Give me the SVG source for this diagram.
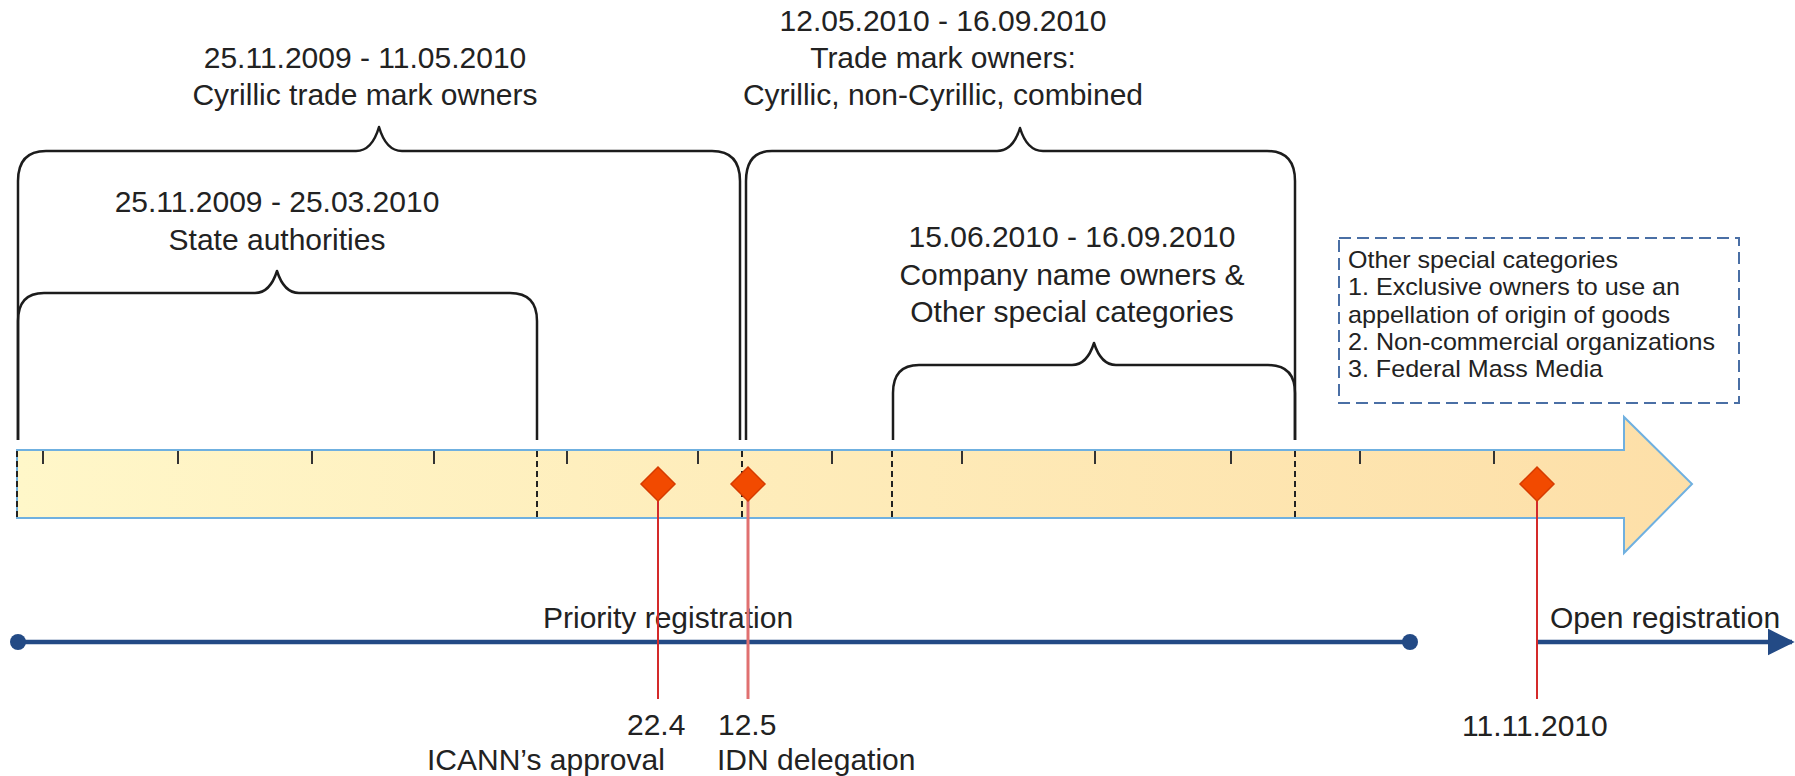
<svg xmlns="http://www.w3.org/2000/svg" width="1795" height="776" viewBox="0 0 1795 776">
<defs>
<linearGradient id="barGrad" gradientUnits="userSpaceOnUse" x1="17" y1="0" x2="1692" y2="0">
<stop offset="0" stop-color="#fff7c9"/>
<stop offset="1" stop-color="#fddfa8"/>
</linearGradient>
<marker id="blueArrow" viewBox="0 0 10 10" refX="9" refY="5" markerWidth="6" markerHeight="6" markerUnits="strokeWidth" orient="auto">
<path d="M0,0 L10,5 L0,10 z" fill="#234a85"/>
</marker>
</defs>
<style>
text{font-family:"Liberation Sans",Arial,sans-serif;fill:#222;}
.t30{font-size:30px;}
.mid{text-anchor:middle;}
.note{font-size:24px;}
.brace{fill:none;stroke:#1c1c1c;stroke-width:2.5;stroke-linejoin:round;}
.tick{stroke:#333;stroke-width:2;}
.dash{stroke:#222;stroke-width:2;stroke-dasharray:6 4;}
.diamond{fill:#f24a00;stroke:#d63c00;stroke-width:1.5;}
.redline{stroke:#d42a2a;stroke-width:2;fill:none;}
.blue{stroke:#234a85;stroke-width:4.5;fill:none;}
.dot{fill:#234a85;}
</style>
<rect width="1795" height="776" fill="#ffffff"/>

<g id="timeline">
<polygon points="17,450 1624,450 1624,417 1692,484 1624,553 1624,518 17,518" fill="url(#barGrad)" stroke="#6fb0e0" stroke-width="2"/>
<line class="tick" x1="43" y1="451" x2="43" y2="464"/>
<line class="tick" x1="178" y1="451" x2="178" y2="464"/>
<line class="tick" x1="312" y1="451" x2="312" y2="464"/>
<line class="tick" x1="434" y1="451" x2="434" y2="464"/>
<line class="tick" x1="567" y1="451" x2="567" y2="464"/>
<line class="tick" x1="698" y1="451" x2="698" y2="464"/>
<line class="tick" x1="832" y1="451" x2="832" y2="464"/>
<line class="tick" x1="962" y1="451" x2="962" y2="464"/>
<line class="tick" x1="1095" y1="451" x2="1095" y2="464"/>
<line class="tick" x1="1231" y1="451" x2="1231" y2="464"/>
<line class="tick" x1="1360" y1="451" x2="1360" y2="464"/>
<line class="tick" x1="1494" y1="451" x2="1494" y2="464"/>
<line class="dash" x1="17" y1="451" x2="17" y2="518"/>
<line class="dash" x1="537" y1="451" x2="537" y2="518"/>
<line class="dash" x1="742" y1="451" x2="742" y2="518"/>
<line class="dash" x1="892" y1="451" x2="892" y2="518"/>
<line class="dash" x1="1295" y1="451" x2="1295" y2="518"/>
</g>

<g id="brace-cyrillic">
<path class="brace" d="M18,440 V181 Q18,151 46,151 H356 Q372,151 379,127 Q386,151 402,151 H712 Q740,151 740,181 V440"/>
<text class="t30 mid" x="365" y="68">25.11.2009 - 11.05.2010</text>
<text class="t30 mid" x="365" y="105">Cyrillic trade mark owners</text>
</g>

<g id="brace-state">
<path class="brace" d="M18,440 V321 Q18,293 44,293 H255 Q270,293 277,271 Q284,293 299,293 H510 Q537,293 537,321 V440"/>
<text class="t30 mid" x="277" y="212">25.11.2009 - 25.03.2010</text>
<text class="t30 mid" x="277" y="250">State authorities</text>
</g>

<g id="brace-trademark">
<path class="brace" d="M746,440 V181 Q746,151 772,151 H997 Q1013,151 1020,128 Q1027,151 1043,151 H1267 Q1295,151 1295,181 V440"/>
<text class="t30 mid" x="943" y="31">12.05.2010 - 16.09.2010</text>
<text class="t30 mid" x="943" y="68">Trade mark owners:</text>
<text class="t30 mid" x="943" y="105">Cyrillic, non-Cyrillic, combined</text>
</g>

<g id="brace-company">
<path class="brace" d="M893,440 V393 Q893,365 919,365 H1072 Q1087,365 1094,343 Q1101,365 1116,365 H1268 Q1295,365 1295,393 V440"/>
<text class="t30 mid" x="1072" y="247">15.06.2010 - 16.09.2010</text>
<text class="t30 mid" x="1072" y="285">Company name owners &amp;</text>
<text class="t30 mid" x="1072" y="322">Other special categories</text>
</g>

<g id="note-box">
<rect x="1339" y="238" width="400" height="165" fill="none" stroke="#4a6fa5" stroke-width="2" stroke-dasharray="12 6"/>
<text class="note" x="1348" y="268" textLength="270" lengthAdjust="spacingAndGlyphs">Other special categories</text>
<text class="note" x="1348" y="295" textLength="332" lengthAdjust="spacingAndGlyphs">1. Exclusive owners to use an</text>
<text class="note" x="1348" y="323" textLength="322" lengthAdjust="spacingAndGlyphs">appellation of origin of goods</text>
<text class="note" x="1348" y="350" textLength="367" lengthAdjust="spacingAndGlyphs">2. Non-commercial organizations</text>
<text class="note" x="1348" y="377" textLength="255" lengthAdjust="spacingAndGlyphs">3. Federal Mass Media</text>
</g>

<g id="priority-registration">
<line class="blue" x1="18" y1="642" x2="1410" y2="642"/>
<circle class="dot" cx="18" cy="642" r="8"/>
<circle class="dot" cx="1410" cy="642" r="8"/>
<text class="t30" x="543" y="628">Priority registration</text>
</g>

<g id="open-registration">
<line class="blue" x1="1537" y1="642" x2="1792" y2="642" marker-end="url(#blueArrow)"/>
<text class="t30" x="1550" y="628">Open registration</text>
</g>

<g id="connectors">
<line class="redline" x1="658" y1="484" x2="658" y2="699"/>
<line x1="748" y1="484" x2="748" y2="699" stroke="#e07070" stroke-width="3"/>
<line class="redline" x1="1537" y1="484" x2="1537" y2="699"/>
</g>

<g id="milestone-icann">
<polygon class="diamond" points="658,467 675,484 658,501 641,484"/>
<text class="t30" x="627" y="735">22.4</text>
<text class="t30" x="427" y="770">ICANN’s approval</text>
</g>

<g id="milestone-idn">
<polygon class="diamond" points="748,467 765,484 748,501 731,484"/>
<text class="t30" x="718" y="735">12.5</text>
<text class="t30" x="717" y="770">IDN delegation</text>
</g>

<g id="milestone-open">
<polygon class="diamond" points="1537,467 1554,484 1537,501 1520,484"/>
<text class="t30" x="1462" y="736">11.11.2010</text>
</g>
</svg>
